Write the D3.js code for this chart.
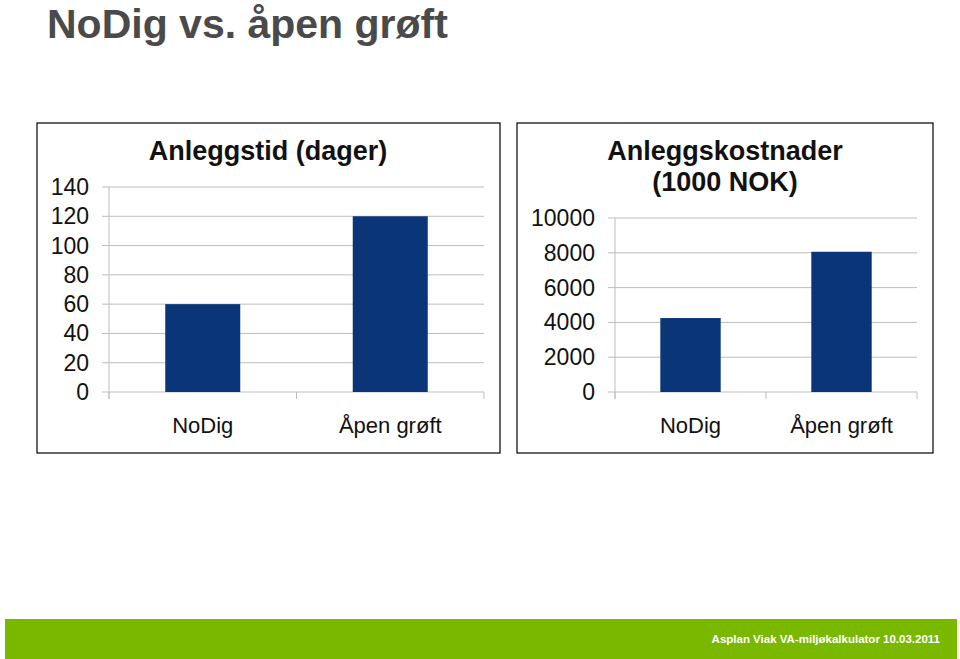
<!DOCTYPE html>
<html><head><meta charset="utf-8">
<script src="https://cdn.jsdelivr.net/npm/d3@7"></script>
<style>body{margin:0;background:#fff}svg{display:block}text{font-family:"Liberation Sans",Arial,sans-serif}</style>
</head><body><svg id="c" width="960" height="659"></svg>
<script>
const pageTitle = "NoDig vs. åpen grøft";
const categories = ["NoDig", "Åpen grøft"];
const durationTitle = ["Anleggstid (dager)"];
const durationValues = [60, 120];
const durationTicks = [0, 20, 40, 60, 80, 100, 120, 140];
const costTitle = ["Anleggskostnader", "(1000 NOK)"];
const costValues = [4250, 8060];
const costTicks = [0, 2000, 4000, 6000, 8000, 10000];
const footerText = "Asplan Viak VA-miljøkalkulator 10.03.2011";

const svg = d3.select("#c");
svg.append("text").attr("x", 47).attr("y", 38).attr("font-size", 41).attr("font-weight", "bold")
  .attr("fill", "#4a4a4a").text(pageTitle);

function panel(cfg) {
  const g = svg.append("g");
  g.append("rect").attr("x", cfg.frame[0]).attr("y", cfg.frame[1]).attr("width", cfg.frame[2]).attr("height", cfg.frame[3])
    .attr("fill", "#fff").attr("stroke", "#000").attr("stroke-width", 1.2);
  const x = d3.scaleBand().domain(categories).range([cfg.left, cfg.right]).paddingInner(0.6).paddingOuter(0.3);
  const xb = d3.scaleBand().domain(categories).range([cfg.left, cfg.right]);
  const y = d3.scaleLinear().domain([0, cfg.max]).range([cfg.bottom, cfg.top]);
  g.selectAll(".grid").data(cfg.ticks).join("line")
    .attr("x1", cfg.left - 7).attr("x2", cfg.right).attr("y1", d => y(d)).attr("y2", d => y(d))
    .attr("stroke", "#bdbdbd").attr("stroke-width", 1);
  g.append("line").attr("x1", cfg.left).attr("x2", cfg.left).attr("y1", y(cfg.max)).attr("y2", cfg.bottom + 7)
    .attr("stroke", "#bdbdbd");
  const xt = [cfg.left, ...categories.slice(1).map(c => xb(c)), cfg.right];
  g.selectAll(".xt").data(xt).join("line").attr("x1", d => d).attr("x2", d => d)
    .attr("y1", cfg.bottom).attr("y2", cfg.bottom + 7).attr("stroke", "#bdbdbd");
  g.selectAll(".bar").data(cfg.values).join("rect")
    .attr("x", (d, i) => x(categories[i])).attr("width", x.bandwidth())
    .attr("y", d => y(d)).attr("height", d => cfg.bottom - y(d)).attr("fill", "#0a3679");
  g.selectAll(".yl").data(cfg.ticks).join("text")
    .attr("x", cfg.labelX).attr("y", d => y(d) + 8).attr("text-anchor", "end")
    .attr("font-size", 23).attr("fill", "#111").text(d => d);
  g.selectAll(".xl").data(categories).join("text")
    .attr("x", d => xb(d) + xb.bandwidth() / 2).attr("y", 433).attr("text-anchor", "middle")
    .attr("font-size", 22).attr("fill", "#111").text(d => d);
  g.selectAll(".t").data(cfg.title).join("text")
    .attr("x", cfg.titleX).attr("y", (d, i) => 160 + i * 31).attr("text-anchor", "middle")
    .attr("font-size", 27).attr("font-weight", "bold").attr("fill", "#111").text(d => d);
}

panel({frame: [37, 123, 463, 330], left: 109, right: 484, top: 187, bottom: 392, max: 140,
  ticks: durationTicks, values: durationValues, labelX: 89, title: durationTitle, titleX: 268});
panel({frame: [517, 123, 416, 330], left: 615, right: 917, top: 218, bottom: 392, max: 10000,
  ticks: costTicks, values: costValues, labelX: 595, title: costTitle, titleX: 725});

svg.append("rect").attr("x", 5).attr("y", 619).attr("width", 952).attr("height", 40).attr("fill", "#7ab800");
svg.append("text").attr("x", 940).attr("y", 643).attr("text-anchor", "end").attr("font-size", 11.5)
  .attr("font-weight", "bold").attr("fill", "#fff").text(footerText);
</script></body></html>
